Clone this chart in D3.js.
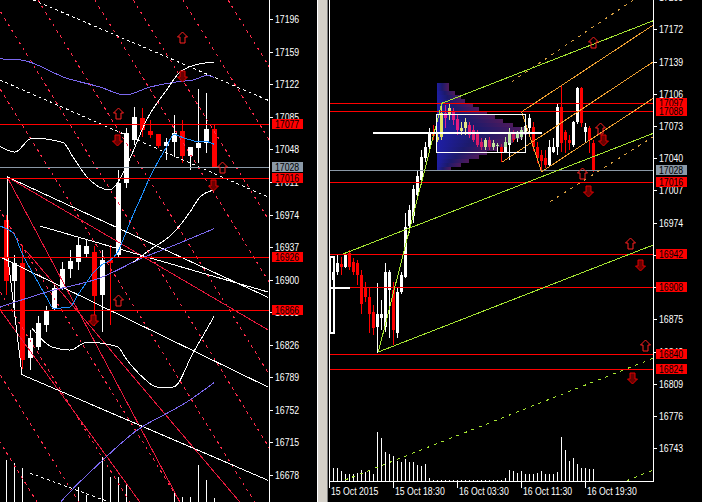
<!DOCTYPE html>
<html><head><meta charset="utf-8">
<script src="https://cdn.jsdelivr.net/npm/d3@7"></script>
<style>html,body{margin:0;padding:0;background:#000;overflow:hidden}svg{display:block}</style>
</head><body>
<svg id="c" width="702" height="502"></svg>
<script>
// ================= LEFT PANEL DATA (bar index, price) =================
const leftTicks=[17196,17159,17122,17085,17048,17011,16974,16937,16900,16863,16826,16789,16752,16715,16678];
const leftOpen =[16968,16898,16919,16811,16824,16849,16867,16891,16912,16920,16929,16932,16883,16922,16928,17010,17059,17084,17069,17066,17052,17057,17069,17041,17050,17055,17071];
const leftHigh =[16974,16928,16939,16843,16859,16870,16896,16920,16934,16947,16945,16938,16934,16939,17025,17072,17096,17095,17082,17066,17061,17087,17082,17051,17117,17112,17076];
const leftLow  =[16883,16858,16799,16797,16820,16841,16866,16888,16902,16911,16925,16847,16841,16849,16925,17004,17053,17062,17061,17050,17036,17039,17033,17025,17033,17044,17027];
const leftClose=[16898,16919,16809,16834,16851,16866,16891,16912,16921,16939,16938,16881,16922,16919,17010,17067,17085,17070,17064,17052,17057,17067,17041,17051,17055,17071,17028];
const leftVolume=[52,49,44,8,8,8,8,8,8,25,17,8,55,35,35,29,8,8,8,8,8,19,15,15,47,32,14];
const leftMA=[[-1,16962],[0,16958],[1,16952],[2,16930],[3,16913],[4,16897],[5,16881],[6,16867],[7,16868],[8,16869],[9,16883],[10,16896],[11,16909],[12,16917],[13,16922],[14,16932],[15,16954],[16,16976],[17,16996],[18,17017],[19,17034],[20,17050],[21,17065],[22,17062],[23,17059],[24,17057],[25,17057],[26,17054]];
const leftBandUpper=[[-1,17151],[1.75,17150],[7.6,17129],[11.75,17119],[14.9,17110],[18,17119],[21.4,17125],[23.4,17127],[25.1,17132],[26,17130]];
const leftBandLower=[[-1,16868],[5.1,16886],[11.75,16902],[17.1,16925],[19.6,16934],[22.6,16945],[26,16958]];
const leftBandLower2=[[4,16615],[7.1,16650],[11.75,16692],[16.4,16729],[20.9,16752],[22.6,16761],[26,16783]];
const leftEnvUpper=[[-1,17053],[1.1,17045],[3.25,17061],[7.1,17056],[8.4,17039],[10.1,17017],[13,17002],[14,17011],[15.5,17038],[17.6,17082],[20.1,17116],[21.75,17136],[24.6,17146],[26,17147]];
const leftEnvMid=[[15.9,16920],[18,16934],[20.9,16953],[23,16977],[24.25,16994],[26,17002]];
const leftEnvLower=[[3.25,16845],[4.6,16831],[5.9,16823],[8,16820],[10.1,16829],[13.9,16824],[15.1,16809],[17.1,16789],[18.9,16778],[20.9,16778],[23.4,16817],[26,16858]];
const leftWhiteLines=[[0.125,17017,32.75,16880],[-0.75,16926,32.75,16778],[2,16792,32.75,16672],[4.25,16961,32.75,16886]];
const leftWhiteHandle=[[0.125,17017],[0.125,16934],[2,16792]];
const leftWhiteDashed=[[3.4,17218,32.75,17104],[-0.75,17127,32.75,16994],[3,16680,13,16647]];
const leftRedLines=[[0.125,17017,32.75,16843],[0.125,17017,21.75,16647],[-0.75,16866,16.75,16647],[2.4,16934,29.25,16647]];
const leftRedDashed=[[-34.9,17218,3.9,16647],[-29.6,17218,9.1,16647],[-23.25,17218,15.5,16647],[-17,17218,21.75,16647],[-7.6,17218,31.1,16647],[-1.6,17218,37.1,16647],[4,17218,42.75,16647],[11.1,17218,49.9,16647],[15.9,17218,54.6,16647],[22.1,17218,60.9,16647],[27.75,17218,66.5,16647]];
const leftLevels=[17077,17016,16926,16866];
const currentPrice=17028;
const leftArrowsUp=[[21.96,17176],[14.04,17089],[26.96,17028],[14.04,16877]];
const leftArrowsDown=[[21.96,17131],[13.84,17059],[25.9,17008],[10.9,16854]];

// ================= RIGHT PANEL DATA (M30 bars) =================
const rightTicks=[17205,17172,17139,17106,17073,17040,17007,16974,16941,16908,16875,16842,16809,16776,16743];
const rightOpen =[16915,16924,16932,16929,16943,16934,16933,16920,16907,16898,16883,16867,16876,16867,16905,16905,16861,16903,16918,16971,16981,17002,17018,17040,17052,17067,17059,17062,17086,17084,17087,17080,17068,17071,17074,17069,17066,17057,17052,17059,17052,17053,17052,17046,17054,17066,17061,17062,17067,17071,17072,17052,17043,17040,17033,17046,17052,17092,17067,17059,17054,17077,17112,17067,17071,17056];
const rightHigh =[16928,16941,16939,16944,16946,16938,16936,16926,16913,16908,16890,16912,16895,16933,16926,16913,16907,16923,16984,16992,17013,17028,17048,17057,17071,17074,17067,17097,17094,17096,17091,17084,17077,17081,17077,17074,17069,17061,17061,17062,17059,17056,17055,17062,17071,17069,17068,17072,17077,17085,17077,17057,17048,17048,17059,17061,17097,17114,17069,17064,17078,17113,17113,17076,17073,17059];
const rightLow  =[16912,16920,16920,16928,16926,16920,16910,16880,16893,16861,16859,16841,16864,16862,16856,16849,16856,16901,16917,16963,16974,16999,17013,17036,17048,17059,17057,17059,17071,17079,17074,17064,17064,17064,17061,17057,17051,17048,17048,17048,17048,17046,17036,17045,17038,17057,17057,17059,17051,17066,17047,17035,17026,17030,17031,17045,17043,17046,17045,17048,17052,17075,17072,17056,17045,17026];
const rightClose=[16923,16933,16929,16941,16929,16923,16920,16891,16898,16880,16866,16880,16880,16924,16923,16864,16903,16920,16970,16987,17008,17022,17041,17052,17067,17063,17062,17086,17081,17091,17079,17069,17071,17077,17064,17059,17054,17052,17059,17051,17056,17054,17046,17057,17067,17059,17065,17069,17073,17081,17052,17040,17037,17033,17051,17051,17092,17056,17059,17056,17077,17112,17076,17072,17059,17028];
const rightVolume=[13,13,10,7,7,7,8,11,9,11,7,49,43,29,27,25,20,19,22,19,19,16,15,17,3,1,1,1,1,1,1,1,1,1,1,1,1,1,1,1,1,1,1,3,11,10,8,10,7,7,7,8,10,7,7,7,9,44,31,20,23,17,13,13,12,12];
const timeLabels=["15 Oct 2015","15 Oct 18:30","16 Oct 03:30","16 Oct 11:30","16 Oct 19:30"];
const timeTickBars=[-1,15,31,47,63];
const rightLevels=[17097,17088,17016,16942,16908,16840,16824];
const profileLevels=[17115,17111,17107,17103,17099,17095,17090,17086,17082,17078,17074,17070,17066,17062,17058,17054,17049,17045,17041,17037,17033,17029];
const profileVolume=[12,12,18,24,28,36,42,50,58,66,76,88,90,86,76,70,60,50,42,32,24,14];
const sessionBox=[25.85,17085,48.1,17046];
const sessionPOC=[10,17066,52.1];
const prevBox=[-0.83,16939,0.2,16861];
const prevPOC=[-0.83,16907,4.2];
const greenLines=[[11.25,16841.6,80,16951.2],[2.4,16941.9,80,17065.5],[27.1,17096.2,80,17180.8],[11.25,16841.6,27.1,17096.2]];
const greenDashed=[[2.9,16710.5,80,16835.2],[73.35,16709.8,80,16720.8]];
const orangeLines=[[47.1,17087.6,80,17176.4],[42.1,17035.8,80,17138.8],[52.1,17026.2,80,17101.4],[47.1,17087.6,52.1,17026.2]];
const orangeDashed=[[44.6,17118.4,75,17202],[54.2,16995.5,80,17062]];
const rightArrowsUp=[[65,17159],[66.7,17071],[62.1,17025],[74.2,16953],[77.9,16849]];
const rightArrowsDown=[[67.5,17059],[63.75,17006],[76.7,16931],[74.6,16815]];

// ================= SCALES =================
const xL=d3.scaleLinear().domain([0,26]).range([6,214]);
const yL=d3.scaleLinear().domain([16678,17196]).range([475,19.3]);
const yLV=d3.scaleLinear().domain([0,100]).range([512,412]);
const xR=d3.scaleLinear().domain([0,65]).range([333.3,593.3]);
const yR=d3.scaleLinear().domain([16743,17172]).range([448.3,29.3]);
const yRV=d3.scaleLinear().domain([0,50]).range([481,431]);
const xP=d3.scaleLinear().domain([0,100]).range([436.7,536.7]);

const svg=d3.select('#c').attr('shape-rendering','crispEdges');
svg.append('rect').attr('width',702).attr('height',502).attr('fill','#000');
const defs=svg.append('defs');
defs.append('clipPath').attr('id','clipL').append('rect').attr('x',0).attr('y',0).attr('width',269).attr('height',502);
defs.append('clipPath').attr('id','clipR').append('rect').attr('x',330).attr('y',0).attr('width',323).attr('height',481);
const grad=defs.append('linearGradient').attr('id','prof').attr('x1',0).attr('x2',1).attr('y1',0).attr('y2',0);
grad.append('stop').attr('offset',0).attr('stop-color','#1e1ea6');
grad.append('stop').attr('offset',0.45).attr('stop-color','#1c1a6c');
grad.append('stop').attr('offset',1).attr('stop-color','#4e1a5c');

const FONT='Liberation Sans, Arial, sans-serif';
function txt(g,x,y,s,fill){
  return g.append('text').attr('transform',`translate(${x},${y}) scale(0.87,1)`)
    .attr('fill',fill).attr('font-family',FONT).attr('font-size',10).text(s);
}
function seg(g,xs,ys,d,color,dash,w){
  g.append('line').attr('x1',xs(d[0])).attr('y1',ys(d[1])).attr('x2',xs(d[2])).attr('y2',ys(d[3]))
   .attr('stroke',color).attr('stroke-width',w||1).attr('stroke-dasharray',dash||null);
}
function hline(g,x0,x1,y,color){
  g.append('rect').attr('x',x0).attr('width',x1-x0).attr('y',Math.round(y)).attr('height',1).attr('fill',color);
}
function curve(g,xs,ys,pts,color){
  g.append('path').attr('d',d3.line().x(p=>xs(p[0])).y(p=>ys(p[1])).curve(d3.curveMonotoneX)(pts))
   .attr('fill','none').attr('stroke',color).attr('stroke-width',1);
}
function arrow(g,xs,ys,p,dir){
  const cx=Math.round(xs(p[0]))+0.5,cy=Math.round(ys(p[1]))+0.5;
  const pts=[[0,-5.5],[5,-0.5],[2.5,-0.5],[2.5,5.5],[-2.5,5.5],[-2.5,-0.5],[-5,-0.5]];
  g.append('path').attr('d','M'+pts.map(q=>[cx+q[0],cy+q[1]*dir].join(',')).join('L')+'Z')
   .attr('fill',dir>0?'none':'#6a0000').attr('stroke',dir>0?'#ff2020':'#e00000').attr('stroke-width',1)
   .attr('shape-rendering','auto');
}
function candles(g,xs,ys,O,Hh,Lo,C,bw){
  O.forEach((o,i)=>{
    const cx=Math.round(xs(i)), up=C[i]>=o, col=up?'#ffffff':'#ff0000';
    g.append('rect').attr('x',cx).attr('width',1).attr('y',ys(Hh[i])).attr('height',Math.max(1,ys(Lo[i])-ys(Hh[i]))).attr('fill',col);
    const top=ys(Math.max(o,C[i])), bot=ys(Math.min(o,C[i]));
    g.append('rect').attr('x',cx-Math.floor(bw/2)).attr('width',bw).attr('y',top).attr('height',Math.max(1,bot-top)).attr('fill',col);
  });
}
function priceBox(g,x,y,v,bg){
  g.append('rect').attr('x',x).attr('y',Math.round(y)-5).attr('width',31).attr('height',10).attr('fill',bg);
  txt(g,x+3,Math.round(y)+4,String(v),'#000');
}

// ================= LEFT PANEL =================
const L=svg.append('g').attr('clip-path','url(#clipL)');
leftVolume.forEach((v,i)=>{
  L.append('rect').attr('x',Math.round(xL(i))).attr('width',1).attr('y',yLV(v)).attr('height',yLV(0)-yLV(v)).attr('fill','#fff');
});
candles(L,xL,yL,leftOpen,leftHigh,leftLow,leftClose,5);
leftRedDashed.forEach(d=>seg(L,xL,yL,d,'#ff2a4a','3,4'));
leftRedLines.forEach(d=>seg(L,xL,yL,d,'#e8183c'));
leftWhiteDashed.forEach(d=>seg(L,xL,yL,d,'#ffffff','3,3'));
leftWhiteLines.forEach(d=>seg(L,xL,yL,d,'#ffffff'));
L.append('path').attr('d',d3.line().x(p=>xL(p[0])).y(p=>yL(p[1]))(leftWhiteHandle)).attr('fill','none').attr('stroke','#fff');
curve(L,xL,yL,leftBandUpper,'#7b68ee');
curve(L,xL,yL,leftBandLower,'#7b68ee');
curve(L,xL,yL,leftBandLower2,'#7b68ee');
curve(L,xL,yL,leftEnvUpper,'#ffffff');
curve(L,xL,yL,leftEnvMid,'#ffffff');
curve(L,xL,yL,leftEnvLower,'#ffffff');
curve(L,xL,yL,leftMA,'#1e90ff');
leftLevels.forEach(v=>hline(L,0,269,yL(v),'#ff0000'));
hline(L,0,269,yL(currentPrice),'#8a98a6');
leftArrowsUp.forEach(p=>arrow(L,xL,yL,p,1));
leftArrowsDown.forEach(p=>arrow(L,xL,yL,p,-1));

// left axis
const LA=svg.append('g');
LA.append('rect').attr('x',269).attr('y',0).attr('width',1).attr('height',502).attr('fill','#fff');
leftTicks.forEach(v=>{
  const y=yL(v);
  LA.append('rect').attr('x',270).attr('y',Math.round(y)).attr('width',3).attr('height',1).attr('fill','#fff');
  txt(LA,275,Math.round(y)+4,String(v),'#fff');
});
leftLevels.forEach(v=>priceBox(LA,272,yL(v),v,'#ff0000'));
priceBox(LA,272,yL(currentPrice),currentPrice,'#8a98a6');

// separator
svg.append('rect').attr('x',317).attr('y',0).attr('width',1).attr('height',502).attr('fill','#ffffff');
svg.append('rect').attr('x',318).attr('y',0).attr('width',9).attr('height',502).attr('fill','#d4d0c8');
svg.append('rect').attr('x',327).attr('y',0).attr('width',1).attr('height',502).attr('fill','#808080');

// ================= RIGHT PANEL =================
const R=svg.append('g').attr('clip-path','url(#clipR)');
rightVolume.forEach((v,i)=>{
  R.append('rect').attr('x',Math.round(xR(i))).attr('width',1).attr('y',yRV(v)).attr('height',yRV(0)-yRV(v)).attr('fill','#fff');
});
candles(R,xR,yR,rightOpen,rightHigh,rightLow,rightClose,3);
// volume profile (blended like the terminal's background objects)
const PG=R.append('g').style('mix-blend-mode','difference');
profileLevels.forEach((lv,k)=>{
  const y0=yR(lv+2.05), y1=yR(lv-2.05);
  PG.append('rect').attr('x',xP(0)).attr('y',y0).attr('width',xP(profileVolume[k])-xP(0)).attr('height',y1-y0).attr('fill','url(#prof)');
});
rightLevels.forEach(v=>hline(R,330,653,yR(v),'#ff0000'));
hline(R,330,653,yR(currentPrice),'#8a98a6');
greenDashed.forEach(d=>seg(R,xR,yR,d,'#a6e632','3,5'));
orangeDashed.forEach(d=>seg(R,xR,yR,d,'#d8a040','3,5'));
orangeLines.forEach(d=>seg(R,xR,yR,d,'#f0a030'));
greenLines.forEach(d=>seg(R,xR,yR,d,'#a6e632'));
R.append('rect').attr('x',xR(sessionBox[0])).attr('y',yR(sessionBox[1])).attr('width',xR(sessionBox[2])-xR(sessionBox[0])).attr('height',yR(sessionBox[3])-yR(sessionBox[1])).attr('fill','none').attr('stroke','#fff').attr('stroke-width',1.5);
R.append('rect').attr('x',xR(sessionPOC[0])).attr('y',yR(sessionPOC[1])-1).attr('width',xR(sessionPOC[2])-xR(sessionPOC[0])).attr('height',2.5).attr('fill','#fff');
R.append('rect').attr('x',xR(prevBox[0])).attr('y',yR(prevBox[1])).attr('width',xR(prevBox[2])-xR(prevBox[0])).attr('height',yR(prevBox[3])-yR(prevBox[1])).attr('fill','none').attr('stroke','#fff').attr('stroke-width',1.5);
R.append('rect').attr('x',xR(prevPOC[0])).attr('y',yR(prevPOC[1])-1).attr('width',xR(prevPOC[2])-xR(prevPOC[0])).attr('height',2).attr('fill','#fff');
rightArrowsUp.forEach(p=>arrow(R,xR,yR,p,1));
rightArrowsDown.forEach(p=>arrow(R,xR,yR,p,-1));

// right frame & axes
const RA=svg.append('g');
RA.append('rect').attr('x',329).attr('y',0).attr('width',1).attr('height',482).attr('fill','#fff');
RA.append('rect').attr('x',329).attr('y',481).attr('width',325).attr('height',1).attr('fill','#fff');
RA.append('rect').attr('x',653).attr('y',0).attr('width',1).attr('height',482).attr('fill','#fff');
rightTicks.forEach(v=>{
  const y=yR(v);
  RA.append('rect').attr('x',654).attr('y',Math.round(y)).attr('width',3).attr('height',1).attr('fill','#fff');
  txt(RA,659,Math.round(y)+4,String(v),'#fff');
});
rightLevels.forEach(v=>priceBox(RA,656,yR(v),v,'#ff0000'));
priceBox(RA,656,yR(currentPrice),currentPrice,'#8a98a6');
timeTickBars.forEach((b,k)=>{
  const x=Math.round(xR(b));
  RA.append('rect').attr('x',x).attr('y',482).attr('width',1).attr('height',6).attr('fill','#fff');
  txt(RA,x+2,495,timeLabels[k],'#fff');
});
</script>
</body></html>
